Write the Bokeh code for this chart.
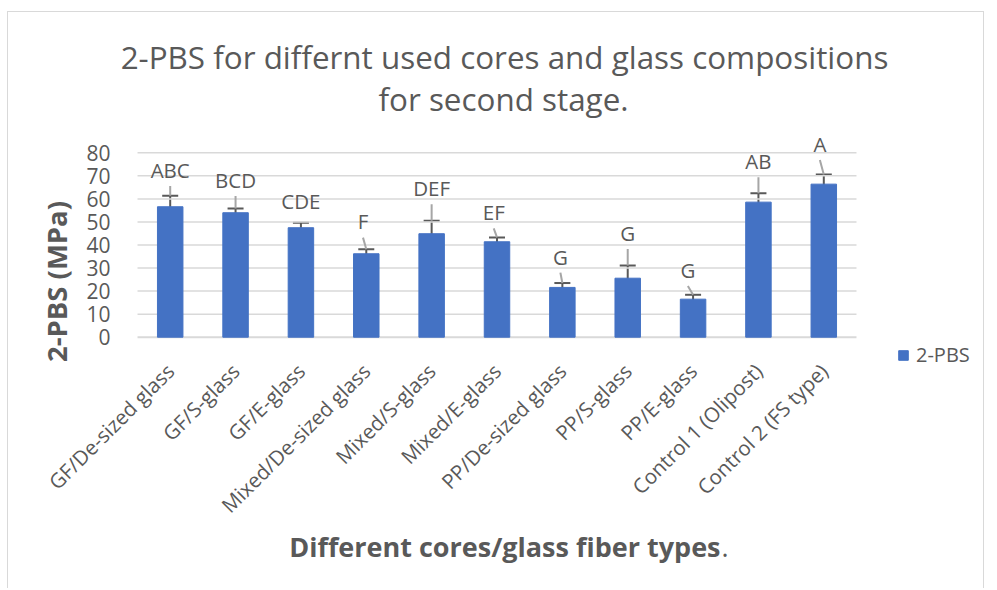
import math
from bokeh.plotting import figure
from bokeh.models import (FactorRange, Range1d, FixedTicker, ColumnDataSource, Whisker,
                          TeeHead, Label, Legend, LegendItem)
from bokeh.core.properties import value
from bokeh.embed import file_html
from bokeh.resources import INLINE

# ---- data -------------------------------------------------------------
categories = ["GF/De-sized glass", "GF/S-glass", "GF/E-glass", "Mixed/De-sized glass",
              "Mixed/S-glass", "Mixed/E-glass", "PP/De-sized glass", "PP/S-glass",
              "PP/E-glass", "Control 1 (Olipost)", "Control 2 (FS type)"]
pbs_mean = [56.6, 54.0, 47.5, 36.2, 44.9, 41.4, 21.6, 25.6, 16.5, 58.6, 66.4]
pbs_sd = [4.8, 1.8, 2.2, 2.0, 5.6, 1.9, 1.9, 5.5, 1.9, 3.9, 4.2]
letters = ["ABC", "BCD", "CDE", "F", "DEF", "EF", "G", "G", "G", "AB", "A"]
# where each letter label sits (MPa) and its small horizontal shift (fraction of a category)
letter_y = [72.6, 68.3, 58.9, 50.2, 64.7, 54.2, 35.0, 45.3, 29.2, 76.4, 83.9]
letter_dx = [0.0, 0.0, 0.0, -0.05, 0.0, -0.05, -0.03, 0.0, -0.08, 0.0, -0.06]
y_ticks = [0, 10, 20, 30, 40, 50, 60, 70, 80]
series_name = "2-PBS"

TXT = "#595959"
FONT = "Open Sans"

# ---- canvas geometry (the plot frame fills the whole canvas) -----------
W, H = 977, 577
PX_PER_MPA = 2.305
Y0_FROM_TOP = 324.7            # pixel row of the 0 MPa line, from the canvas top
n = len(categories)
rp = (W / 65.36) / n - 1       # padding so that one category is ~65 px wide

upper = [m + s for m, s in zip(pbs_mean, pbs_sd)]
lower = [m - s for m, s in zip(pbs_mean, pbs_sd)]
src = ColumnDataSource(dict(cat=categories, mean=pbs_mean, upper=upper, lower=lower))

lab_x = [i + 0.5 + d for i, d in enumerate(letter_dx)]
lab_src = ColumnDataSource(dict(x=lab_x, y=letter_y, t=letters))

# leader lines from label to the top of the error bar (only when the label is moved away)
lx0, ly0, lx1, ly1 = [], [], [], []
for i in range(n):
    start = letter_y[i] - 7.0
    if start - upper[i] > 3.0:
        lx0.append(lab_x[i]); ly0.append(start)
        lx1.append(i + 0.5); ly1.append(upper[i])
lead_src = ColumnDataSource(dict(x0=lx0, y0=ly0, x1=lx1, y1=ly1))

grid_src = ColumnDataSource(dict(x0=[0] * len(y_ticks), x1=[n] * len(y_ticks),
                                 y=y_ticks,
                                 lw=[2.0 if t == 0 else 1.5 for t in y_ticks]))

p = figure(width=W, height=H, output_backend="svg", toolbar_location=None,
           x_range=FactorRange(factors=categories, range_padding=rp, factor_padding=0),
           y_range=Range1d(-(H - Y0_FROM_TOP) / PX_PER_MPA, Y0_FROM_TOP / PX_PER_MPA),
           min_border=0)
p.outline_line_color = None
p.background_fill_color = "white"
p.border_fill_color = "white"
p.styles = {"margin-left": "7px", "margin-top": "11px",
            "border-top": "1px solid #d9d9d9", "border-left": "1px solid #d9d9d9",
            "border-right": "1px solid #d9d9d9"}

# horizontal gridlines over the category area
p.segment(x0="x0", y0="y", x1="x1", y1="y", source=grid_src, line_color="#d9d9d9",
          line_width="lw")

bars = p.vbar(x="cat", top="mean", width=0.39, source=src, fill_color="#4472C4",
              line_color="#4472C4")

p.segment(x0="x0", y0="y0", x1="x1", y1="y1", source=lead_src, line_color="#a6a6a6",
          line_width=2)

w = Whisker(base="cat", upper="upper", lower="lower", source=src, line_color=TXT,
            line_width=2,
            upper_head=TeeHead(size=16, line_color=TXT, line_width=2),
            lower_head=TeeHead(size=16, line_color=TXT, line_width=2))
p.add_layout(w)

p.text(x="x", y="y", text="t", source=lab_src, text_align="center", text_baseline="middle",
       text_font=value(FONT), text_font_size="20.5px", text_color=TXT)

# axes, drawn at the 0 line / left edge of the category area
p.xgrid.visible = False
p.ygrid.visible = False

p.yaxis.fixed_location = 0
p.yaxis.ticker = FixedTicker(ticks=y_ticks)
p.yaxis.axis_line_color = None
p.yaxis.major_tick_line_color = None
p.yaxis.minor_tick_line_color = None
p.yaxis.major_label_standoff = 21
p.yaxis.major_label_text_font = FONT
p.yaxis.major_label_text_font_size = "21px"
p.yaxis.major_label_text_color = TXT

p.xaxis.fixed_location = 0
p.xaxis.axis_line_color = None
p.xaxis.major_tick_line_color = None
p.xaxis.minor_tick_line_color = None
p.xaxis.major_label_orientation = math.pi / 4
p.xaxis.major_label_standoff = 24
p.xaxis.major_label_text_font = FONT
p.xaxis.major_label_text_font_size = "20.5px"
p.xaxis.major_label_text_color = TXT

# chart title and axis titles (px from the canvas bottom-left)
for txt, sx, sy in [("2-PBS for differnt used cores and glass compositions", 496, 533),
                    ("for second stage.", 495, 491)]:
    p.add_layout(Label(x=sx, y=sy, x_units="screen", y_units="screen", text=txt,
                       text_align="center", text_baseline="middle", text_font=FONT,
                       text_font_size="31.4px", text_color=TXT))

p.add_layout(Label(x=48, y=308, x_units="screen", y_units="screen", text="2-PBS (MPa)",
                   angle=math.pi / 2, text_align="center", text_baseline="middle",
                   text_font=FONT, text_font_style="bold", text_font_size="27.5px",
                   text_color=TXT))

p.add_layout(Label(x=712, y=43, x_units="screen", y_units="screen",
                   text="Different cores/glass fiber types", text_align="right",
                   text_baseline="middle", text_font=FONT, text_font_style="bold",
                   text_font_size="27px", text_color=TXT))
p.add_layout(Label(x=713, y=43, x_units="screen", y_units="screen", text=".",
                   text_align="left", text_baseline="middle", text_font=FONT,
                   text_font_size="27px", text_color=TXT))

legend = Legend(items=[LegendItem(label=series_name, renderers=[bars])],
                location=(889, 221), orientation="vertical", glyph_width=12,
                glyph_height=12, label_height=12, label_standoff=7, padding=0, margin=0,
                spacing=0, border_line_color=None, background_fill_alpha=0,
                label_text_font=FONT, label_text_font_size="20px", label_text_color=TXT,
                label_text_baseline="middle")
p.add_layout(legend, "center")

open("out.html", "w").write(file_html(p, INLINE))
